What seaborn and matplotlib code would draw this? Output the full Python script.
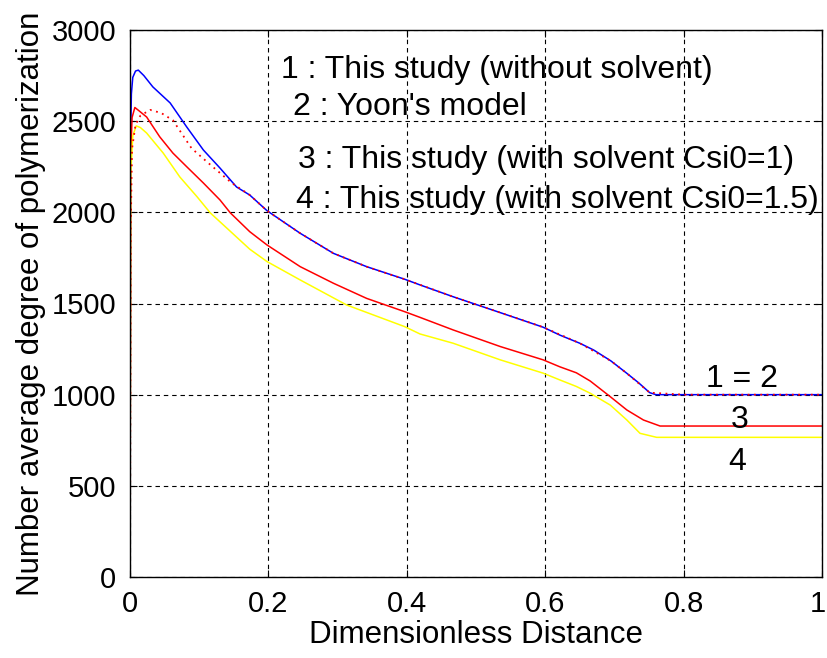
import matplotlib
matplotlib.use("Agg")
import matplotlib.pyplot as plt
import matplotlib.transforms as mtransforms
import seaborn as sns
import pandas as pd

# Series 1: This study (without solvent) - blue
x1 = [0, 0.0008, 0.002, 0.004, 0.008, 0.012, 0.02, 0.033, 0.058, 0.082, 0.106, 0.13, 0.154,
      0.173, 0.198, 0.246, 0.294, 0.342, 0.397, 0.419, 0.467, 0.535, 0.597, 0.621, 0.650,
      0.670, 0.695, 0.718, 0.735, 0.751, 0.76, 0.8, 0.9, 1.0]
y1 = [0, 2400, 2650, 2740, 2775, 2780, 2750, 2688, 2600, 2468, 2342, 2243, 2139,
      2095, 2009, 1885, 1775, 1702, 1633, 1602, 1537, 1450, 1370, 1327, 1282,
      1245, 1185, 1117, 1065, 1011, 1000, 1000, 1000, 1000]

# Series 2: Yoon's model - red dotted
x2 = [0, 0.001, 0.003, 0.008, 0.015, 0.029, 0.045, 0.062, 0.089, 0.113, 0.147,
      0.173, 0.198, 0.246, 0.294, 0.342, 0.397, 0.467, 0.535, 0.597, 0.650,
      0.695, 0.718, 0.751, 0.8, 0.9, 1.0]
y2 = [0, 1900, 2350, 2480, 2530, 2562, 2545, 2505, 2351, 2271, 2161,
      2095, 2009, 1885, 1775, 1702, 1633, 1537, 1450, 1370, 1282,
      1185, 1117, 1011, 1000, 1000, 1000]

# Series 3: This study (with solvent Csi0=1) - red
x3 = [0, 0.001, 0.003, 0.007, 0.012, 0.024, 0.043, 0.062, 0.082, 0.106, 0.13, 0.145,
      0.173, 0.198, 0.246, 0.294, 0.342, 0.397, 0.419, 0.467, 0.535, 0.597, 0.621,
      0.645, 0.665, 0.694, 0.718, 0.742, 0.766, 0.8, 0.9, 1.0]
y3 = [0, 2300, 2520, 2575, 2560, 2523, 2414, 2325, 2250, 2161, 2068, 1997,
      1894, 1821, 1702, 1611, 1528, 1455, 1424, 1355, 1264, 1191, 1153,
      1120, 1075, 989, 916, 861, 828, 828, 828, 828]

# Series 4: This study (with solvent Csi0=1.5) - yellow
x4 = [0, 0.001, 0.004, 0.009, 0.015, 0.024, 0.048, 0.072, 0.097, 0.116, 0.173, 0.198,
      0.246, 0.313, 0.397, 0.419, 0.467, 0.535, 0.597, 0.621, 0.645, 0.665, 0.694,
      0.718, 0.737, 0.761, 0.8, 0.9, 1.0]
y4 = [0, 2200, 2420, 2474, 2465, 2435, 2325, 2194, 2085, 1997, 1798, 1730,
      1629, 1492, 1373, 1333, 1282, 1191, 1118, 1081, 1045, 1008, 943,
      861, 788, 766, 766, 766, 766]

x_ticks = [0, 0.2, 0.4, 0.6, 0.8, 1.0]
x_tick_labels = ["0", "0.2", "0.4", "0.6", "0.8", "1"]
y_ticks = [0, 500, 1000, 1500, 2000, 2500, 3000]
y_tick_labels = ["0", "500", "1000", "1500", "2000", "2500", "3000"]

legend_lines = ["1 : This study (without solvent)",
                "2 : Yoon's model",
                "3 : This study (with solvent Csi0=1)",
                "4 : This study (with solvent Csi0=1.5)"]
end_labels = ["1 = 2", "3", "4"]

sns.set_style("white")
plt.rcParams['font.family'] = ['Liberation Sans', 'DejaVu Sans']

fig = plt.figure(figsize=(8.28, 6.58), dpi=100)
ax = fig.add_axes([130 / 828, 81 / 658, 692 / 828, 547 / 658])

d1 = pd.DataFrame({"x": x1, "y": y1})
d2 = pd.DataFrame({"x": x2, "y": y2})
d3 = pd.DataFrame({"x": x3, "y": y3})
d4 = pd.DataFrame({"x": x4, "y": y4})

lw = 1.1
sns.lineplot(data=d1, x="x", y="y", ax=ax, color="#0000ff", lw=lw, estimator=None, sort=False)
sns.lineplot(data=d3, x="x", y="y", ax=ax, color="#ff0000", lw=lw, estimator=None, sort=False)
sns.lineplot(data=d4, x="x", y="y", ax=ax, color="#ffff00", lw=lw, estimator=None, sort=False)
sns.lineplot(data=d2, x="x", y="y", ax=ax, color="#ff0000", lw=1.3, estimator=None, sort=False,
             linestyle=(0, (1, 2.5)))

ax.set_xlim(0, 1)
ax.set_ylim(0, 3000)
ax.set_xticks(x_ticks)
ax.set_xticklabels(x_tick_labels)
ax.set_yticks(y_ticks)
ax.set_yticklabels(y_tick_labels)

tick_fs = 21
label_fs = 22.5
text_fs = 23
ax.tick_params(axis="both", direction="in", length=5, width=0.8, pad=9,
               labelsize=tick_fs, top=True, right=True, bottom=True, left=True,
               colors="black", labelcolor="black")
ax.tick_params(axis="y", pad=10)
ax.grid(True, color="black", linestyle=(0, (4, 3.5)), linewidth=0.8)

# keep the last x tick label inside the figure
last = ax.get_xticklabels()[-1]
last.set_transform(last.get_transform() +
                   mtransforms.ScaledTranslation(-4 / 100, 0, fig.dpi_scale_trans))

for s in ax.spines.values():
    s.set_color("black")
    s.set_linewidth(1.0)
    s.set_visible(True)

ax.set_xlabel("Dimensionless Distance", fontsize=label_fs, labelpad=2, color="black")
ax.set_ylabel("Number average degree of polymerization", fontsize=label_fs, labelpad=4,
              color="black")

text_pos = [(0.2175, 2735), (0.236, 2534), (0.243, 2241), (0.240, 2022)]
for (tx, ty), t in zip(text_pos, legend_lines):
    ax.text(tx, ty, t, fontsize=text_fs, ha="left", va="baseline", color="black")

end_pos = [(0.884, 1044), (0.8815, 815), (0.878, 587)]
for (tx, ty), t in zip(end_pos, end_labels):
    ax.text(tx, ty, t, fontsize=text_fs, ha="center", va="baseline", color="black")

fig.savefig("out.png", dpi=100)
